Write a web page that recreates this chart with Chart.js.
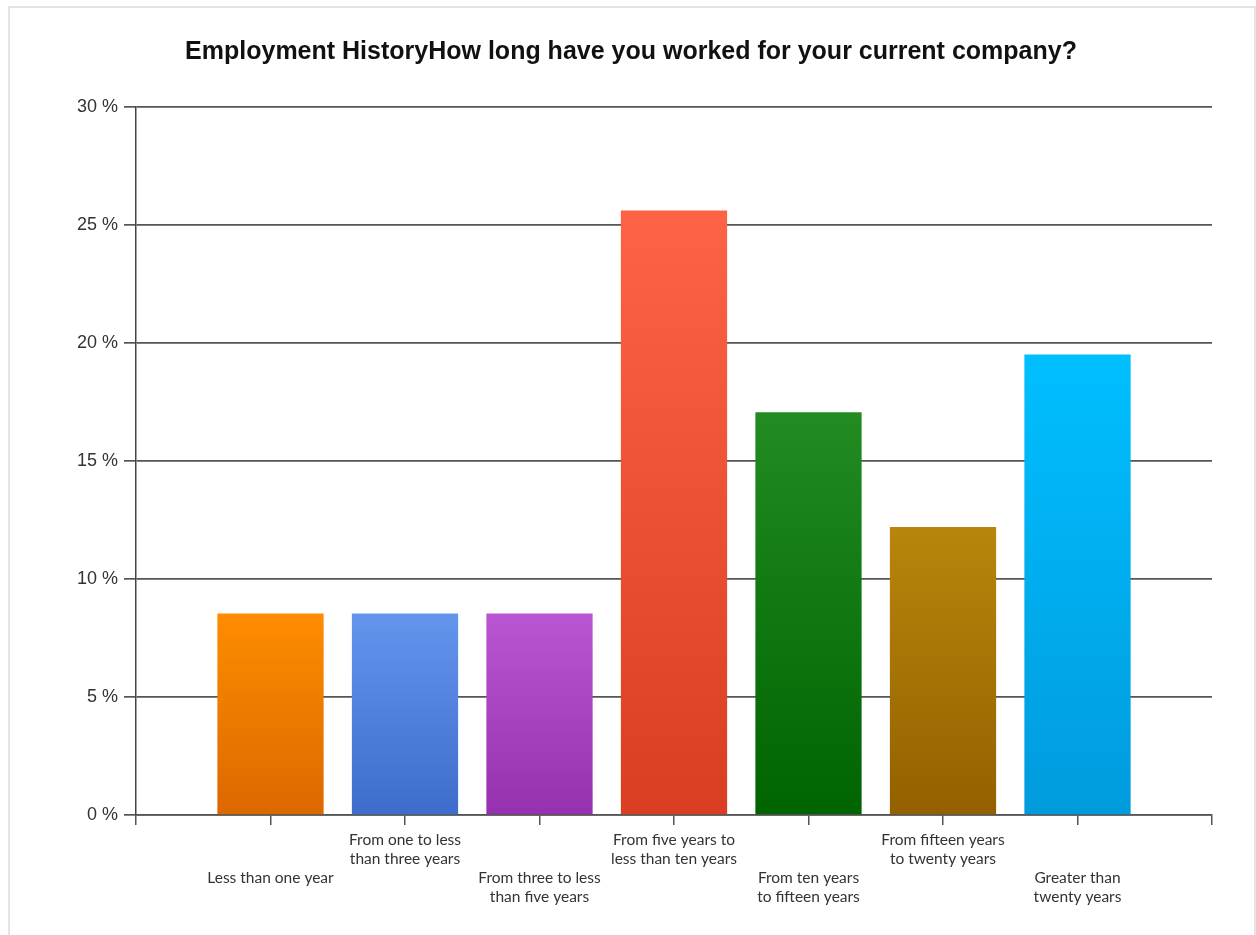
<!DOCTYPE html>
<html>
<head>
<meta charset="utf-8">
<title>Employment History</title>
<script src="https://cdn.jsdelivr.net/npm/chart.js@4.4.1/dist/chart.umd.min.js"></script>
<style>
  html, body { margin: 0; padding: 0; background: #fff; }
  .wrap { position: relative; width: 1256px; height: 935px; }
  .frame {
    position: absolute; left: 8px; top: 6px; width: 1244px; height: 940px;
    border: 2px solid #e4e4e4; border-bottom: none;
  }
  canvas { position: absolute; left: 0; top: 0; }
</style>
</head>
<body>
<div class="wrap">
  <div class="frame"></div>
  <canvas id="chart" width="1256" height="935"></canvas>
</div>
<script>
// Answers to "How long have you worked for your current company?" (share of respondents)
const categories = [
  'Less than one year',
  'From one to less than three years',
  'From three to less than five years',
  'From five years to less than ten years',
  'From ten years to fifteen years',
  'From fifteen years to twenty years',
  'Greater than twenty years'
];
// axis label text, split over two lines the way it is printed
const labelLines = [
  ['Less than one year'],
  ['From one to less', 'than three years'],
  ['From three to less', 'than five years'],
  ['From five years to', 'less than ten years'],
  ['From ten years', 'to fifteen years'],
  ['From fifteen years', 'to twenty years'],
  ['Greater than', 'twenty years']
];
const percentages = [8.54, 8.54, 8.54, 25.61, 17.07, 12.20, 19.51];
const topColors = ['#FF8C00', '#6495ED', '#BA55D3', '#FF6347', '#228B22', '#B8860B', '#00BFFF'];
const bottomColors = ['#DC6800', '#3E6CCB', '#9530AE', '#D93D22', '#006400', '#946000', '#009BDD'];
const yTickValues = [0, 5, 10, 15, 20, 25, 30];

// one empty slot on each side so the bars sit on the inner ticks;
// every other label is pushed down two lines (staggered rows)
const axisLabels = [''].concat(labelLines.map((lines, i) =>
  i % 2 === 0 ? ['', ''].concat(lines) : lines
), ['']);
const axisData = [null].concat(percentages, [null]);

// vertical gradient per bar, bright at the top
function barFill(ctx) {
  const chart = ctx.chart;
  const area = chart.chartArea;
  if (!area || ctx.type !== 'data' || ctx.parsed == null || ctx.parsed.y == null) return '#999';
  const i = ctx.dataIndex - 1;
  const yScale = chart.scales.y;
  const top = yScale.getPixelForValue(ctx.parsed.y);
  const bottom = yScale.getPixelForValue(0);
  const g = chart.ctx.createLinearGradient(0, top, 0, bottom);
  g.addColorStop(0, topColors[i]);
  g.addColorStop(1, bottomColors[i]);
  return g;
}

new Chart(document.getElementById('chart'), {
  type: 'bar',
  data: {
    labels: axisLabels,
    datasets: [{
      label: 'Percent',
      data: axisData,
      backgroundColor: barFill,
      borderWidth: 0,
      categoryPercentage: 1,
      barPercentage: 0.79
    }]
  },
  options: {
    responsive: false,
    animation: false,
    layout: { padding: { left: 50, right: 44, top: 0, bottom: 0 } },
    plugins: {
      legend: { display: false },
      tooltip: { enabled: false },
      title: {
        display: true,
        text: 'Employment HistoryHow long have you worked for your current company?',
        color: '#111',
        font: { family: 'Liberation Sans, Arial, sans-serif', size: 25, weight: 'bold', lineHeight: 1.2 },
        padding: { top: 37, bottom: 40 }
      }
    },
    scales: {
      x: {
        offset: false,
        grid: { offset: false, drawOnChartArea: false, drawTicks: true, tickLength: 10, color: '#555', lineWidth: 1.5 },
        border: { display: true, color: '#555', width: 1.5 },
        ticks: {
          autoSkip: false,
          maxRotation: 0,
          minRotation: 0,
          padding: 5,
          color: '#333',
          font: { family: 'Lato, sans-serif', size: 15.5, lineHeight: 1.24 }
        },
        afterFit: s => { s.height = 120; }
      },
      y: {
        min: 0,
        max: 30,
        afterBuildTicks: s => { s.ticks = yTickValues.map(v => ({ value: v })); },
        grid: { color: '#555', lineWidth: 1.7, tickLength: 12 },
        border: { display: true, color: '#444', width: 1.5 },
        ticks: {
          padding: 6,
          color: '#333',
          font: { family: 'Liberation Sans, Arial, sans-serif', size: 18 },
          callback: v => v + ' %'
        },
        afterFit: s => { s.width = 86; }
      }
    }
  }
});
</script>
</body>
</html>
